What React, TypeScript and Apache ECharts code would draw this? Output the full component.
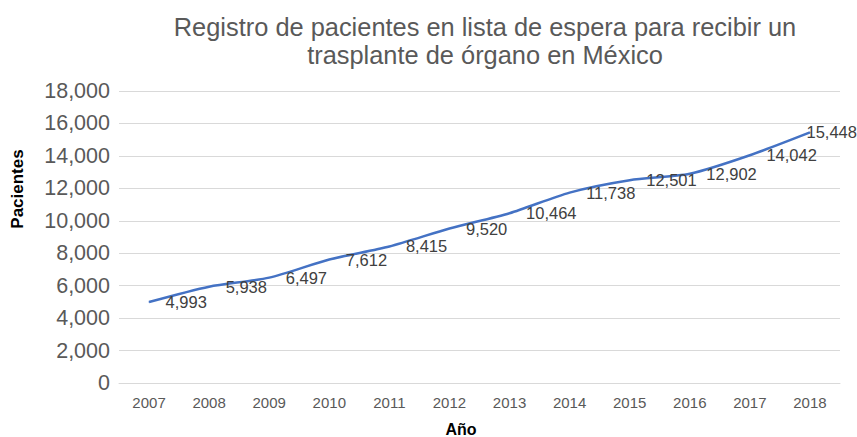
import React, { useEffect, useRef } from "react";
import * as echarts from "echarts";

const years = ["2007", "2008", "2009", "2010", "2011", "2012", "2013", "2014", "2015", "2016", "2017", "2018"];
const patients = [4993, 5938, 6497, 7612, 8415, 9520, 10464, 11738, 12501, 12902, 14042, 15448];
const yTicks = [0, 2000, 4000, 6000, 8000, 10000, 12000, 14000, 16000, 18000];

const titleText = "Registro de pacientes en lista de espera para recibir un\ntrasplante de órgano en México";
const FONT = "'Liberation Sans', Arial, sans-serif";

export default function App() {
  const ref = useRef<HTMLDivElement>(null);
  useEffect(() => {
    const chart = echarts.init(ref.current!, null, { renderer: "svg" });
    const lastIdx = patients.length - 1;
    const seriesData = patients.map((v, i) =>
      i === lastIdx
        ? { value: v, label: { position: "right", distance: -4, offset: [0, 4] } }
        : v
    );
    chart.setOption({
      animation: false,
      backgroundColor: "#ffffff",
      textStyle: { fontFamily: FONT },
      title: {
        text: titleText,
        left: 480,
        textAlign: "center",
        top: 8,
        textStyle: { fontSize: 25.4, fontWeight: "normal", color: "#595959", lineHeight: 28, fontFamily: FONT },
      },
      grid: { left: 119, right: 17, top: 91, bottom: 54, containLabel: false },
      xAxis: {
        type: "category",
        data: years,
        boundaryGap: true,
        axisLine: { show: true, lineStyle: { color: "#d9d9d9", width: 1 } },
        axisTick: { show: false },
        axisLabel: { color: "#595959", fontSize: 15, margin: 12 },
      },
      yAxis: {
        type: "value",
        min: yTicks[0],
        max: yTicks[yTicks.length - 1],
        interval: 2000,
        axisLine: { show: false },
        axisTick: { show: false },
        splitLine: { lineStyle: { color: "#d9d9d9", width: 1 } },
        axisLabel: {
          color: "#595959",
          fontSize: 21.5,
          margin: 9,
          formatter: (v: number) => v.toLocaleString("en-US"),
        },
      },
      graphic: [
        {
          type: "text",
          x: 17,
          y: 189,
          rotation: Math.PI / 2,
          style: {
            text: "Pacientes",
            fill: "#000000",
            font: `bold 17px ${FONT}`,
            align: "center",
            verticalAlign: "middle",
          },
        },
        {
          type: "text",
          x: 461,
          y: 429,
          style: {
            text: "Año",
            fill: "#000000",
            font: `bold 16px ${FONT}`,
            align: "center",
            verticalAlign: "middle",
          },
        },
      ],
      series: [
        {
          type: "line",
          data: seriesData,
          smooth: 0.25,
          symbol: "circle",
          symbolSize: 1,
          showSymbol: true,
          itemStyle: { color: "#4472C4" },
          lineStyle: { color: "#4472C4", width: 2.5 },
          label: {
            show: true,
            position: "right",
            distance: 16,
            color: "#404040",
            fontSize: 16.5,
            formatter: (p: any) => Number(p.value).toLocaleString("en-US"),
          },
          labelLayout: { hideOverlap: false },
        },
      ],
    });
    return () => chart.dispose();
  }, []);
  return <div ref={ref} style={{ width: 857, height: 437, position: "absolute", left: 0, top: 0 }} />;
}
